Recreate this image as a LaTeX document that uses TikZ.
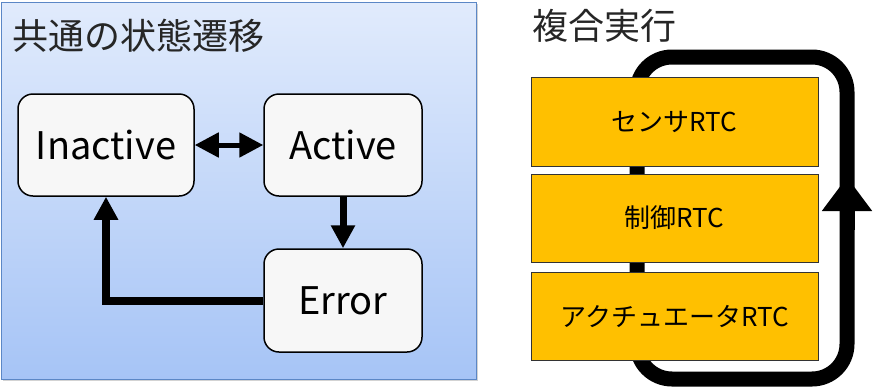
\documentclass[tikz,border=0pt]{standalone}
\usepackage{fontspec}
\setmainfont{Noto Sans CJK JP}
\usepackage{tikz}
\usetikzlibrary{arrows.meta}
\usetikzlibrary{shadows}
\usetikzlibrary{positioning}
\definecolor{panelTop}{HTML}{E1EBFC}
\definecolor{panelBot}{HTML}{A6C4F6}
\definecolor{panelRand}{HTML}{5B87C6}
\definecolor{rtcGelb}{HTML}{FFC000}
\definecolor{titelGrau}{HTML}{262626}
\tikzset{
    zustand/.style={draw=black, line width=1.5pt, fill=black!3, rounded corners=15pt, font=\fontsize{38}{44}\selectfont},
    rtc/.style={draw=black!80, line width=1pt, fill=rtcGelb, minimum width=287pt, font=\fontsize{26}{30}\selectfont},
    titel/.style={anchor=west, text=titelGrau, font=\fontsize{36}{42}\selectfont, inner sep=0pt},
    pfeil/.style={line width=#1, -{Triangle[length=23pt,width=23pt]}},
    schleife/.style={line width=15pt, rounded corners=35pt}
}
\begin{document}
\begin{tikzpicture}[x=1pt,y=-1pt]
    \useasboundingbox (0,0) rectangle (875,389);
    % Linkes Feld: gemeinsame Zustaende
    \shade[top color=panelTop, bottom color=panelBot, draw=panelRand, line width=1pt,
        drop shadow={shadow xshift=2pt, shadow yshift=-2pt, opacity=.35}]
        (1,2) rectangle (476,379);
    \node[titel] (titelL) at (12,36) {共通の状態遷移};

    % Zustaende
    \node[zustand, minimum width=176pt, minimum height=102pt] (inactive) at (106,145) {Inactive};
    \node[zustand, minimum width=158pt, minimum height=102pt] (active) at (343,145) {Active};
    \node[zustand, minimum width=158pt, minimum height=103pt] (error) at (343,300.5) {Error};

    % Uebergaenge
    \draw[line width=5pt, {Triangle[length=24pt,width=24pt]}-{Triangle[length=24pt,width=24pt]}] (inactive) -- (active);
    \draw[pfeil=7pt] (active) -- (error);
    \draw[pfeil=8pt] (error.west) -| (inactive.south);

    % Rechtes Feld: zusammengesetzte Ausfuehrung
    \node[titel] (titelR) at (532,26) {複合実行};
    \coordinate (lo) at (637,57); % Ecke oben links der Schleife
    \coordinate (ru) at (847,379); % Ecke unten rechts
    \draw[schleife] (lo) rectangle (ru);

    \node[rtc, minimum height=89pt] (sensor) at (674.5,121.5) {センサRTC};
    \node[rtc, minimum height=88pt] (regler) at (674.5,218) {制御RTC};
    \node[rtc, minimum height=88pt] (aktor) at (674.5,316) {アクチュエータRTC};

    % Pfeilspitze auf der rechten Seite
    \coordinate (pfA) at (847,230);
    \coordinate (pfB) at (847,177);
    \draw[line width=15pt, -{Triangle[length=34pt,width=48pt]}] (pfA) -- (pfB);
\end{tikzpicture}
\end{document}
